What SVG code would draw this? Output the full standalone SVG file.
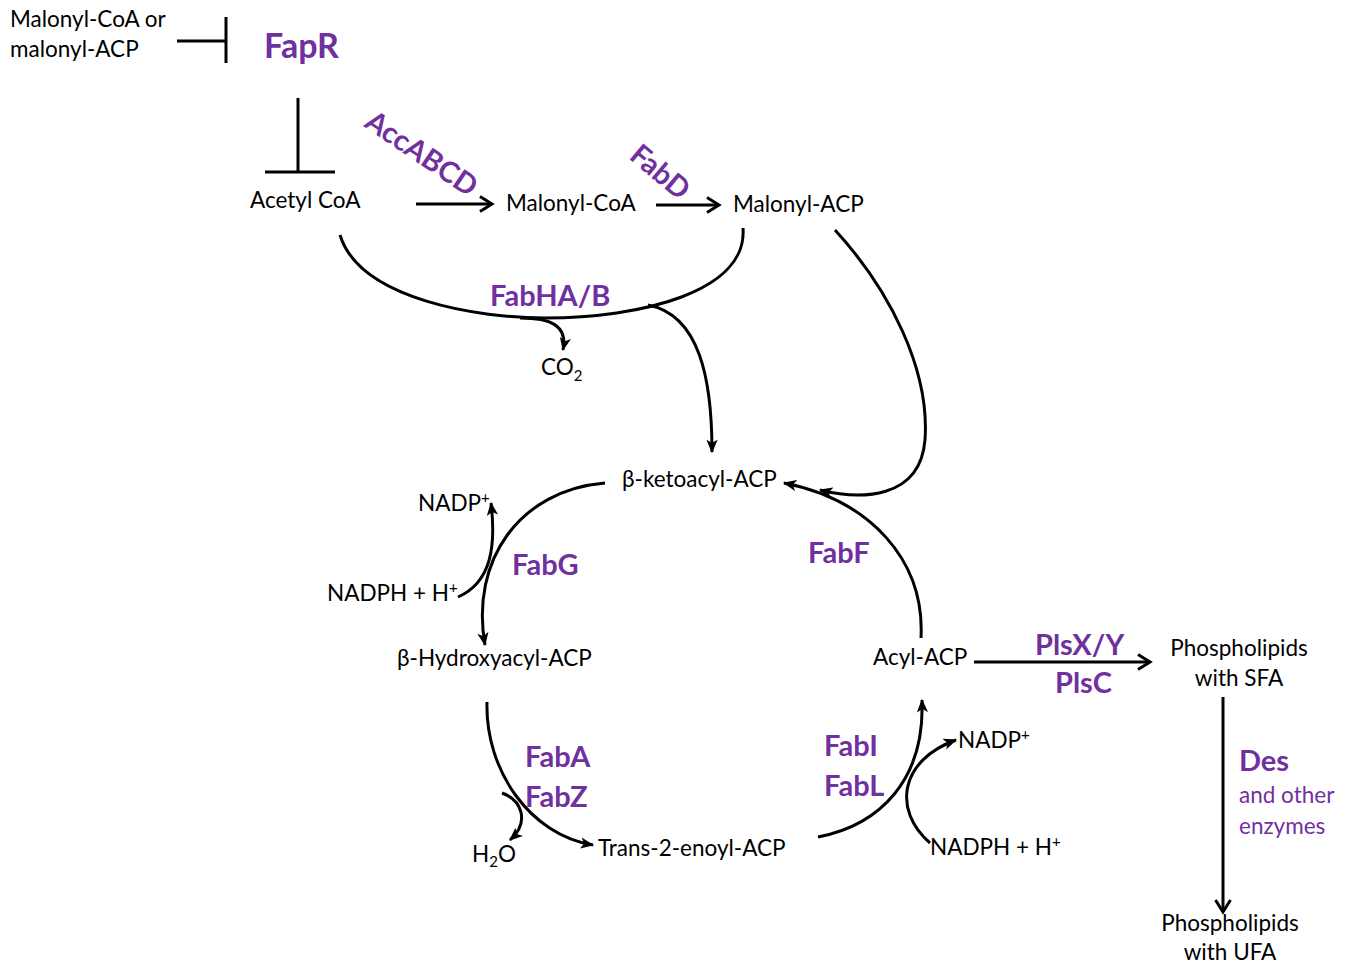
<svg xmlns="http://www.w3.org/2000/svg" width="1348" height="963" viewBox="0 0 1348 963">
<defs>
<marker id="chev" viewBox="0 0 12 12" refX="10" refY="6" markerWidth="6" markerHeight="6" orient="auto" markerUnits="strokeWidth">
<path d="M2,1 L10,6 L2,11" fill="none" stroke="#000" stroke-width="2"/>
</marker>
<marker id="tri" viewBox="0 0 12 10" refX="11" refY="5" markerWidth="4.5" markerHeight="4" orient="auto" markerUnits="strokeWidth">
<path d="M0,0 L12,5 L0,10 L3,5 Z" fill="#000"/>
</marker>
<style>
text{font-family:Lato,"Open Sans","Liberation Sans",sans-serif;fill:#000;font-size:22.5px}
.e{fill:#7030A0;font-weight:bold;font-size:29px}
.ep{fill:#7030A0;font-size:22.5px}
.c{fill:none;stroke:#000;stroke-width:3}
.s{font-size:15px}
</style>
</defs>
<g id="connectors">
<path class="c" d="M177,41 H226 M226,17 V63"/>
<path class="c" d="M298,98 V172 M265,172 H335"/>
<path class="c" d="M416,204 H492" marker-end="url(#chev)"/>
<path class="c" d="M656,205 H719" marker-end="url(#chev)"/>
<path class="c" d="M340,235 C360,300 480,318 545,318 C640,318 748,292 743,228"/>
<path class="c" d="M520,318 C550,318 568,325 563,350" marker-end="url(#tri)"/>
<path class="c" d="M648,305 C700,315 712,380 712,452" marker-end="url(#tri)"/>
<path class="c" d="M835,230 C890,290 930,370 925,440 C920,500 860,500 820,490" marker-end="url(#tri)"/>
<path class="c" d="M605,483 C520,490 470,560 485,645" marker-end="url(#tri)"/>
<path class="c" d="M458,597 C492,582 496,545 491,503" marker-end="url(#tri)"/>
<path class="c" d="M487,702 C485,770 530,835 593,845" marker-end="url(#tri)"/>
<path class="c" d="M502,793 C522,800 530,822 510,840" marker-end="url(#tri)"/>
<path class="c" d="M818,837 C880,825 925,780 922,700" marker-end="url(#tri)"/>
<path class="c" d="M930,843 C892,810 900,760 956,740" marker-end="url(#tri)"/>
<path class="c" d="M921,638 C925,560 870,500 784,483" marker-end="url(#tri)"/>
<path class="c" d="M974,662 H1150" marker-end="url(#chev)"/>
<path class="c" d="M1223,697 V912" marker-end="url(#chev)"/>
</g>
<g id="n-malonyl-regulator"><text x="10" y="27">Malonyl-CoA or</text><text x="10" y="57">malonyl-ACP</text></g>
<g id="n-fapr"><text class="e" x="264" y="58" style="font-size:34px">FapR</text></g>
<g id="n-acetylcoa"><text x="250" y="208">Acetyl CoA</text></g>
<g id="n-accabcd"><text class="e" transform="translate(363,126) rotate(34)">AccABCD</text></g>
<g id="n-malonylcoa"><text x="506" y="211">Malonyl-CoA</text></g>
<g id="n-fabd"><text class="e" transform="translate(628,158) rotate(40)">FabD</text></g>
<g id="n-malonylacp"><text x="733" y="212">Malonyl-ACP</text></g>
<g id="n-fabhab"><text class="e" x="490" y="306">FabHA/B</text></g>
<g id="n-co2"><text x="541" y="375">CO<tspan class="s" dy="6">2</tspan></text></g>
<g id="n-ketoacyl"><text x="622" y="487">β-ketoacyl-ACP</text></g>
<g id="n-nadp1"><text x="418" y="511">NADP<tspan class="s" dy="-8">+</tspan></text></g>
<g id="n-nadph1"><text x="327" y="601">NADPH + H<tspan class="s" dy="-8">+</tspan></text></g>
<g id="n-fabg"><text class="e" x="512" y="575">FabG</text></g>
<g id="n-hydroxyacyl"><text x="397" y="666">β-Hydroxyacyl-ACP</text></g>
<g id="n-fabaz"><text class="e" x="525" y="767">FabA</text><text class="e" x="525" y="807">FabZ</text></g>
<g id="n-h2o"><text x="472" y="862">H<tspan class="s" dy="5">2</tspan><tspan dy="-5">O</tspan></text></g>
<g id="n-enoyl"><text x="598" y="856">Trans-2-enoyl-ACP</text></g>
<g id="n-fabil"><text class="e" x="824" y="756">FabI</text><text class="e" x="824" y="796">FabL</text></g>
<g id="n-nadp2"><text x="958" y="748">NADP<tspan class="s" dy="-8">+</tspan></text></g>
<g id="n-nadph2"><text x="930" y="855">NADPH + H<tspan class="s" dy="-8">+</tspan></text></g>
<g id="n-acylacp"><text x="873" y="665">Acyl-ACP</text></g>
<g id="n-fabf"><text class="e" x="808" y="563">FabF</text></g>
<g id="n-pls"><text class="e" x="1035" y="655">PlsX/Y</text><text class="e" x="1055" y="693">PlsC</text></g>
<g id="n-plsfa"><text x="1239" y="656" text-anchor="middle">Phospholipids</text><text x="1239" y="686" text-anchor="middle">with SFA</text></g>
<g id="n-des"><text class="e" x="1239" y="771">Des</text><text class="ep" x="1239" y="803">and other</text><text class="ep" x="1239" y="834">enzymes</text></g>
<g id="n-plufa"><text x="1230" y="931" text-anchor="middle">Phospholipids</text><text x="1230" y="960" text-anchor="middle">with UFA</text></g>
</svg>
